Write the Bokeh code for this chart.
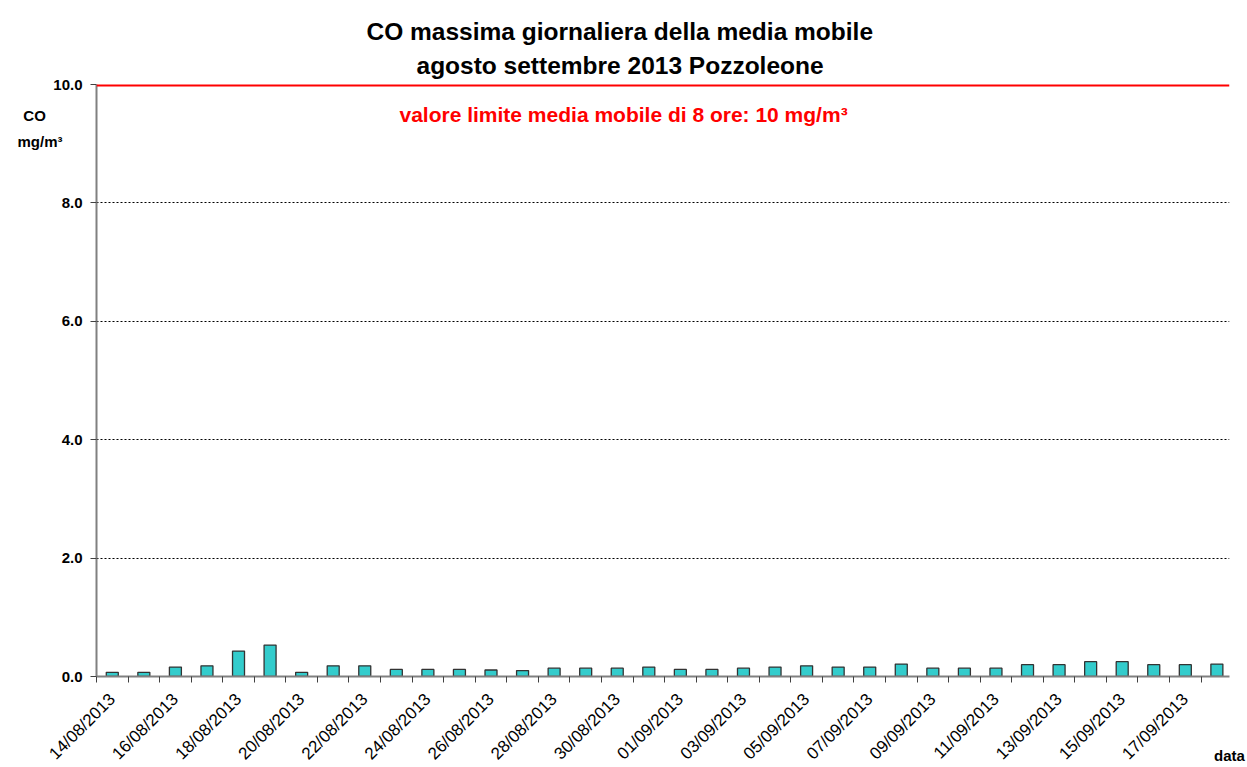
from bokeh.plotting import figure
from bokeh.models import (Range1d, FixedTicker, NumeralTickFormatter, Span, Label, Title, LinearAxis)
from bokeh.embed import file_html
from bokeh.resources import INLINE
import math

# ---- data ----
dates = ["14/08/2013", "15/08/2013", "16/08/2013", "17/08/2013", "18/08/2013", "19/08/2013",
         "20/08/2013", "21/08/2013", "22/08/2013", "23/08/2013", "24/08/2013", "25/08/2013",
         "26/08/2013", "27/08/2013", "28/08/2013", "29/08/2013", "30/08/2013", "31/08/2013",
         "01/09/2013", "02/09/2013", "03/09/2013", "04/09/2013", "05/09/2013", "06/09/2013",
         "07/09/2013", "08/09/2013", "09/09/2013", "10/09/2013", "11/09/2013", "12/09/2013",
         "13/09/2013", "14/09/2013", "15/09/2013", "16/09/2013", "17/09/2013", "18/09/2013"]
co_values = [0.07, 0.07, 0.16, 0.18, 0.43, 0.53, 0.07, 0.18, 0.18, 0.12, 0.12, 0.12,
             0.11, 0.10, 0.14, 0.14, 0.14, 0.16, 0.12, 0.12, 0.14, 0.16, 0.18, 0.16,
             0.16, 0.21, 0.14, 0.14, 0.14, 0.20, 0.20, 0.25, 0.25, 0.20, 0.20, 0.21]
limit_value = 10.0
y_ticks = [0, 2, 4, 6, 8, 10]

title_line1 = "CO massima giornaliera della media mobile"
title_line2 = "agosto settembre 2013 Pozzoleone"
limit_text = "valore limite media mobile di 8 ore: 10 mg/m\u00b3"
unit_labels = {9.48: "CO\u00a0\u00a0\u00a0\u00a0", 9.04: "mg/m\u00b3"}
x_title = "data"

FONT = "Liberation Sans"
n = len(dates)
xs = list(range(n))

p = figure(width=1247, height=767, output_backend="svg", toolbar_location=None,
           x_range=Range1d(-0.5, 35.4), y_range=Range1d(0, limit_value),
           min_border_left=96, min_border_right=18, min_border_top=84, min_border_bottom=91)
p.outline_line_color = None
p.background_fill_color = "white"
p.border_fill_color = "white"

# titles (the added one sits closest to the frame)
p.title.text = title_line1
p.title.text_font = FONT
p.title.text_font_style = "bold"
p.title.text_font_size = "24.5px"
p.title.text_color = "black"
p.title.align = "left"
p.title.offset = 270
p.title.standoff = 0
p.add_layout(Title(text=title_line2, text_font=FONT, text_font_style="bold",
                   text_font_size="24.5px", text_color="black",
                   align="left", offset=320, standoff=11), "above")

p.vbar(x=xs, top=co_values, width=0.38, fill_color="#33CCCC",
       line_color="#333333", line_width=1.3)

# grid
p.xgrid.grid_line_color = None
p.ygrid.ticker = FixedTicker(ticks=y_ticks[1:-1])
p.ygrid.grid_line_color = "black"
p.ygrid.grid_line_dash = "2 2"
p.ygrid.grid_line_width = 1

# limit line
p.add_layout(Span(location=limit_value, dimension="width", line_color="#FF0000", line_width=4))

# y axis
yax = p.yaxis[0]
yax.ticker = FixedTicker(ticks=y_ticks)
yax.formatter = NumeralTickFormatter(format="0.0")
yax.axis_line_color = "#808080"
yax.axis_line_width = 2
yax.major_tick_out = 6
yax.major_tick_in = 0
yax.major_tick_line_color = "#404040"
yax.minor_tick_line_color = None
yax.major_label_text_font = FONT
yax.major_label_text_font_style = "bold"
yax.major_label_text_font_size = "15px"
yax.major_label_text_color = "black"
yax.major_label_standoff = 8

# unit label axis (outside the value axis)
uax = LinearAxis(ticker=FixedTicker(ticks=list(unit_labels.keys())),
                 major_label_overrides=unit_labels,
                 axis_line_color=None, major_tick_line_color=None, minor_tick_line_color=None,
                 major_label_text_font=FONT, major_label_text_font_style="bold",
                 major_label_text_font_size="15px", major_label_text_color="black",
                 major_label_standoff=-18)
p.add_layout(uax, "left")

# x axis
xax = p.xaxis[0]
xax.ticker = FixedTicker(ticks=xs[::2], minor_ticks=[i - 0.5 for i in range(n + 1)])
xax.major_label_overrides = {i: dates[i] for i in range(0, n, 2)}
xax.major_label_orientation = math.pi / 4
xax.axis_line_color = "#808080"
xax.axis_line_width = 2
xax.major_tick_out = 0
xax.major_tick_in = 0
xax.minor_tick_out = 6
xax.minor_tick_in = 0
xax.minor_tick_line_color = "#404040"
xax.major_label_text_font = FONT
xax.major_label_text_font_size = "17px"
xax.major_label_text_color = "black"
xax.major_label_standoff = 14
xax.axis_label = x_title
xax.axis_label_align = "end"
xax.axis_label_standoff = -26
xax.axis_label_text_font = FONT
xax.axis_label_text_font_style = "bold"
xax.axis_label_text_font_size = "15px"
xax.axis_label_text_color = "black"

# limit annotation
p.add_layout(Label(x=16.2, y=9.49, text=limit_text,
                   text_font=FONT, text_font_style="bold", text_font_size="21px",
                   text_color="#FF0000", text_align="center", text_baseline="middle"))

open("out.html", "w").write(file_html(p, INLINE))
